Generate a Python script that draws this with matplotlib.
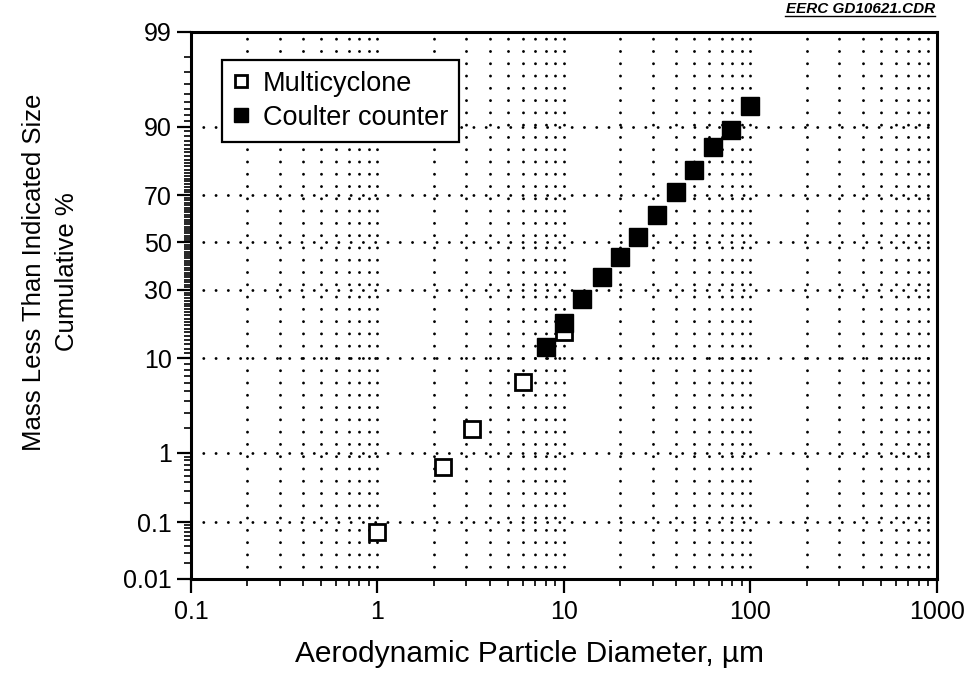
"""
Cumulative particle size distribution on log-probability axes.
"""

import numpy as np
import matplotlib
matplotlib.use('Agg')
import matplotlib.pyplot as plt
from matplotlib.lines import Line2D
from matplotlib.ticker import FixedLocator, NullFormatter, LogLocator
from statistics import NormalDist

# Data
multi_diam = [1.0, 2.25, 3.2, 6.0, 10.0]
multi_cum = [0.07, 0.66, 1.96, 6.1, 16.0]

coulter_diam = [8.0, 10.0, 12.5, 16.0, 20.0, 25.0, 31.5, 40.0, 50.0, 63.0, 79.0, 100.0]
coulter_cum = [12.5, 18.8, 26.6, 35.0, 43.5, 52.3, 61.9, 71.0, 78.8, 85.5, 89.4, 93.4]

y_ticks = [0.01, 0.1, 1, 10, 30, 50, 70, 90, 99]
y_tick_labels = ['0.01', '0.1', '1', '10', '30', '50', '70', '90', '99']
y_grid = [0.1, 1, 10, 30, 50, 70, 90]
y_minor = ([0.02, 0.03, 0.04, 0.05, 0.06, 0.07, 0.08, 0.09]
           + [0.2, 0.3, 0.4, 0.5, 0.6, 0.7, 0.8, 0.9]
           + [2, 3, 4, 5, 6, 7, 8, 9]
           + list(range(11, 90))
           + [91, 92, 93, 94, 95, 96, 97, 98])
x_ticks = [0.1, 1, 10, 100, 1000]
x_tick_labels = ['0.1', '1', '10', '100', '1000']

plt.rcParams['font.family'] = ['Liberation Sans', 'DejaVu Sans']

# normal probability scale (percent)
_nd = NormalDist()


def _prob_fwd(p):
    p = np.clip(np.asarray(p, dtype=float) / 100.0, 1e-9, 1 - 1e-9)
    return np.vectorize(_nd.inv_cdf, otypes=[float])(p)


def _prob_inv(z):
    z = np.asarray(z, dtype=float)
    return np.vectorize(_nd.cdf, otypes=[float])(z) * 100.0


fig = plt.figure(figsize=(9.67, 6.79), dpi=100)
ax = fig.add_axes([0.1975, 0.1473, 0.7714, 0.8056])

ax.set_xscale('log')
ax.set_yscale('function', functions=(_prob_fwd, _prob_inv))
ax.set_xlim(0.1, 1000)
ax.set_ylim(0.01, 99)

dots = (0, (0.01, 4.2))
# vertical grid at every 1-9 multiple
x_grid = [m * 10.0 ** e for e in range(-1, 3) for m in range(1, 10)][1:]
for xv in x_grid:
    ax.axvline(xv, color='black', lw=2.1, ls=dots, dash_capstyle='round', zorder=1)
for yv in y_grid:
    ax.axhline(yv, color='black', lw=2.1, ls=dots, dash_capstyle='round', zorder=1)

ax.plot(multi_diam, multi_cum, 's', ms=11.5, mfc='white', mec='black', mew=2,
        ls='none', label='Multicyclone', zorder=3)
ax.plot(coulter_diam, coulter_cum, 's', ms=12.5, mfc='black', mec='black',
        ls='none', label='Coulter counter', zorder=4)

ax.xaxis.set_major_locator(FixedLocator(x_ticks))
ax.set_xticklabels(x_tick_labels)
ax.xaxis.set_minor_locator(LogLocator(base=10, subs=np.arange(2, 10)))
ax.xaxis.set_minor_formatter(NullFormatter())

ax.yaxis.set_major_locator(FixedLocator(y_ticks))
ax.set_yticklabels(y_tick_labels)
ax.yaxis.set_minor_locator(FixedLocator(y_minor))
ax.yaxis.set_minor_formatter(NullFormatter())

ax.tick_params(axis='both', which='major', direction='out', length=10, width=1.6,
               labelsize=18, color='black')
ax.tick_params(axis='both', which='minor', direction='out', length=5, width=1.2)
ax.tick_params(axis='x', which='major', pad=5)
ax.tick_params(axis='y', which='major', pad=4)

for sp in ax.spines.values():
    sp.set_linewidth(2.2)

ax.set_xlabel('Aerodynamic Particle Diameter, \u00b5m', fontsize=21.5)
ax.xaxis.set_label_coords(0.454, -0.112)
ax.set_ylabel('Mass Less Than Indicated Size\nCumulative %', fontsize=18.5,
              linespacing=1.45, va='center')
ax.yaxis.set_label_coords(-0.188, 0.561)

leg = ax.legend(loc='upper left', bbox_to_anchor=(0.042, 0.949), borderaxespad=0,
                fontsize=19.5, markerscale=0.75, handlelength=0.6, handletextpad=0.5,
                labelspacing=0.3, borderpad=0.4, fancybox=False, framealpha=1)
leg.get_frame().set_edgecolor('black')
leg.get_frame().set_linewidth(1.6)

fig.text(0.967, 0.987, 'EERC GD10621.CDR', ha='right', va='center', fontsize=11,
         style='italic', weight='bold')
fig.add_artist(Line2D([0.812, 0.967], [0.976, 0.976], color='black', lw=1.0,
                      transform=fig.transFigure))

fig.savefig('out.png', dpi=100, facecolor='white')
